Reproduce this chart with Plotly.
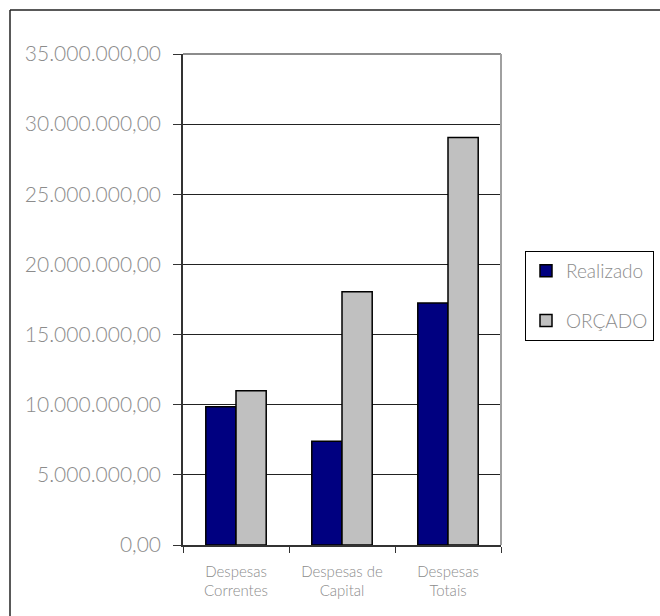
import plotly.graph_objects as go

categories = ["Despesas<br>Correntes", "Despesas de<br>Capital", "Despesas<br>Totais"]
realizado = [9_860_000, 7_390_000, 17_250_000]
orcado = [11_000_000, 18_050_000, 29_050_000]
y_ticks = [0, 5_000_000, 10_000_000, 15_000_000, 20_000_000, 25_000_000, 30_000_000, 35_000_000]

FONT = "Lato"
GRAY = "#8c8c8c"

fig = go.Figure()
fig.add_trace(go.Bar(
    name="Realizado", x=categories, y=realizado,
    marker=dict(color="#000080", line=dict(color="#000000", width=1.5)),
    legendgroup="a",
))
fig.add_trace(go.Bar(
    name="ORÇADO", x=categories, y=orcado,
    marker=dict(color="#C0C0C0", line=dict(color="#000000", width=1.5)),
    legendgroup="b",
))

W, H = 660, 616
L, R, T, B = 183, 501, 54, 545

def px_x(p):
    return (p - L) / (R - L)

def px_y(p):
    return (B - p) / (B - T)

shapes = [
    # outer chart frame (top and left edges visible)
    dict(type="line", xref="paper", yref="paper", x0=px_x(10), x1=px_x(700),
         y0=px_y(10), y1=px_y(10), line=dict(color="#222222", width=1.5)),
    dict(type="line", xref="paper", yref="paper", x0=px_x(10), x1=px_x(10),
         y0=px_y(10), y1=px_y(700), line=dict(color="#222222", width=1.5)),
    # plot area frame: top and right
    dict(type="line", xref="paper", yref="paper", x0=0, x1=1, y0=1, y1=1,
         line=dict(color="#8c8c8c", width=2), layer="above"),
    dict(type="line", xref="paper", yref="paper", x0=1, x1=1, y0=0, y1=1,
         line=dict(color="#a0a0a0", width=2), layer="above"),
]

fig.update_layout(
    width=W, height=H,
    margin=dict(l=L, r=W - R, t=T, b=H - B, pad=0, autoexpand=False),
    paper_bgcolor="white", plot_bgcolor="white",
    separators=",.",
    barmode="group", bargap=0.43, bargroupgap=0,
    font=dict(family=FONT, color=GRAY, weight=300),
    showlegend=True,
    legend=dict(
        x=px_x(525), y=px_y(251), xanchor="left", yanchor="top",
        bordercolor="#000000", borderwidth=1, bgcolor="white",
        font=dict(size=19, color=GRAY, family=FONT, weight=300),
        traceorder="grouped", tracegroupgap=22,
        itemwidth=30,
    ),
    shapes=shapes,
    xaxis=dict(
        showline=True, linecolor="#333333", linewidth=1.5,
        ticks="outside", tickson="boundaries", ticklen=6, tickcolor="#333333",
        tickfont=dict(size=15, color=GRAY, family=FONT, weight=300),
        showgrid=False, ticklabelstandoff=12,
    ),
    yaxis=dict(
        range=[0, 35_000_000], tickvals=y_ticks, tickformat=",.2f",
        showline=True, linecolor="#333333", linewidth=1.5,
        ticks="outside", ticklen=8, tickcolor="#333333",
        tickfont=dict(size=21, color=GRAY, family=FONT, weight=300),
        showgrid=True, gridcolor="#222222", gridwidth=1,
        zeroline=False, ticklabelstandoff=8,
    ),
)

fig.write_html("out.html")
